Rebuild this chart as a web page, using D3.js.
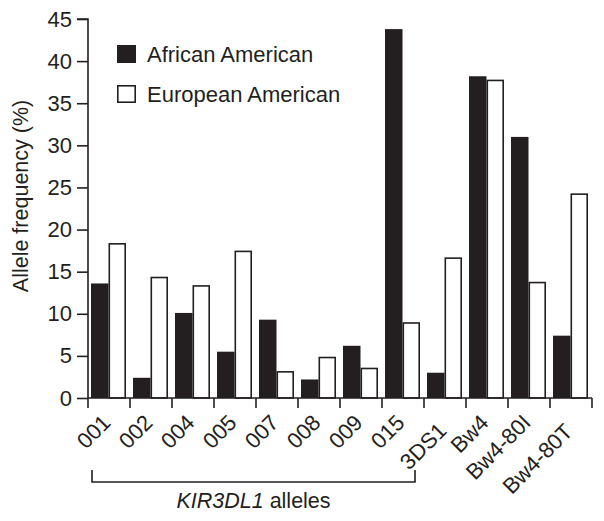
<!DOCTYPE html>
<html>
<head>
<meta charset="utf-8">
<script src="https://cdn.jsdelivr.net/npm/d3@7/dist/d3.min.js"></script>
<style>
  html, body { margin: 0; padding: 0; background: #fff; }
  svg { display: block; }
  text { font-family: "Liberation Sans", Arial, Helvetica, sans-serif; fill: #231f20; }
</style>
</head>
<body>
<svg id="chart" width="604" height="521"></svg>
<script>
const categories = ["001","002","004","005","007","008","009","015","3DS1","Bw4","Bw4-80I","Bw4-80T"];
const seriesNames = ["African American","European American"];
const africanAmerican = [13.6, 2.4, 10.1, 5.5, 9.3, 2.2, 6.2, 43.8, 3.0, 38.2, 31.0, 7.4];
const europeanAmerican = [18.4, 14.4, 13.4, 17.5, 3.2, 4.9, 3.6, 9.0, 16.7, 37.8, 13.8, 24.3];
const yTicks = [0,5,10,15,20,25,30,35,40,45];
const yLabel = "Allele frequency (%)";
const bracketFrom = "001", bracketTo = "015";

const ink = "#231f20";
const svg = d3.select("#chart");

const x = d3.scaleBand().domain(categories).range([88, 592]).padding(0);
const xSub = d3.scaleBand().domain(seriesNames).range([3, 38]).padding(0);
const y = d3.scaleLinear().domain([0, 45]).range([398, 19]);

const data = categories.map((c, i) => ({cat: c, vals: [africanAmerican[i], europeanAmerican[i]]}));

// bars
const sw = 1.6;
const g = svg.append("g");
data.forEach(d => {
  d.vals.forEach((v, j) => {
    const name = seriesNames[j];
    const x0 = x(d.cat) + xSub(name);
    if (j === 0) {
      g.append("rect")
        .attr("x", x0).attr("y", y(v))
        .attr("width", xSub.bandwidth()).attr("height", y(0) - y(v))
        .attr("fill", ink);
    } else {
      g.append("rect")
        .attr("x", x0 + sw/2).attr("y", y(v) + sw/2)
        .attr("width", xSub.bandwidth() - sw).attr("height", y(0) - y(v) - sw/2)
        .attr("fill", "#fff").attr("stroke", ink).attr("stroke-width", sw);
    }
  });
});

// y axis
const yAxis = d3.axisLeft(y).tickValues(yTicks).tickSize(11).tickPadding(5).tickFormat(d3.format("d"));
const ya = svg.append("g").attr("transform", "translate(88,0)").call(yAxis);
ya.select(".domain").attr("stroke", ink).attr("stroke-width", 1.6).attr("d", `M-11,${y(45)}H0V${y(0)}`);
ya.selectAll(".tick line").attr("stroke", ink).attr("stroke-width", 1.6);
ya.selectAll(".tick text").attr("font-size", 22).attr("fill", ink)
  .style("font-family", '"Liberation Sans", Arial, sans-serif');

// x axis
const xa = svg.append("g");
xa.append("line").attr("x1", x.range()[0]).attr("x2", x.range()[1])
  .attr("y1", y(0)).attr("y2", y(0)).attr("stroke", ink).attr("stroke-width", 1.6);
const bounds = categories.map(c => x(c)).concat([x.range()[1]]);
xa.selectAll("line.tk").data(bounds).enter().append("line")
  .attr("x1", d => d).attr("x2", d => d)
  .attr("y1", y(0)).attr("y2", y(0) + 10)
  .attr("stroke", ink).attr("stroke-width", 1.6);
const lowered = {"3DS1": 8, "Bw4-80T": 9};
xa.selectAll("text.xl").data(categories).enter().append("text")
  .attr("transform", d => `translate(${x(d) + x.bandwidth()/2 + 3},${424 + (lowered[d] || 0)}) rotate(-45)`)
  .attr("text-anchor", "end")
  .attr("font-size", 22)
  .text(d => d);

// y label
svg.append("text")
  .attr("transform", "translate(28,196) rotate(-90)")
  .attr("text-anchor", "middle")
  .attr("font-size", 21.5)
  .text(yLabel);

// legend
const legend = svg.append("g");
seriesNames.forEach((name, j) => {
  const ly = 45 + j * 40;
  if (j === 0) {
    legend.append("rect").attr("x", 117).attr("y", ly).attr("width", 19).attr("height", 18).attr("fill", ink);
  } else {
    legend.append("rect").attr("x", 117.8).attr("y", ly + 0.8).attr("width", 17.4).attr("height", 16.4)
      .attr("fill", "#fff").attr("stroke", ink).attr("stroke-width", 1.6);
  }
  legend.append("text").attr("x", 147).attr("y", ly + 16.5).attr("font-size", 22).text(name);
});

// bracket
const bx1 = x(bracketFrom) + 4;
const bx2 = x(bracketTo) + x.bandwidth() - 9;
svg.append("path")
  .attr("d", `M${bx1},470V482H${bx2}V470`)
  .attr("fill", "none").attr("stroke", ink).attr("stroke-width", 1.6);
const bt = svg.append("text")
  .attr("x", (bx1 + bx2) / 2).attr("y", 508)
  .attr("text-anchor", "middle").attr("font-size", 21.5);
bt.append("tspan").attr("font-style", "italic").text("KIR3DL1");
bt.append("tspan").text(" alleles");
</script>
</body>
</html>
